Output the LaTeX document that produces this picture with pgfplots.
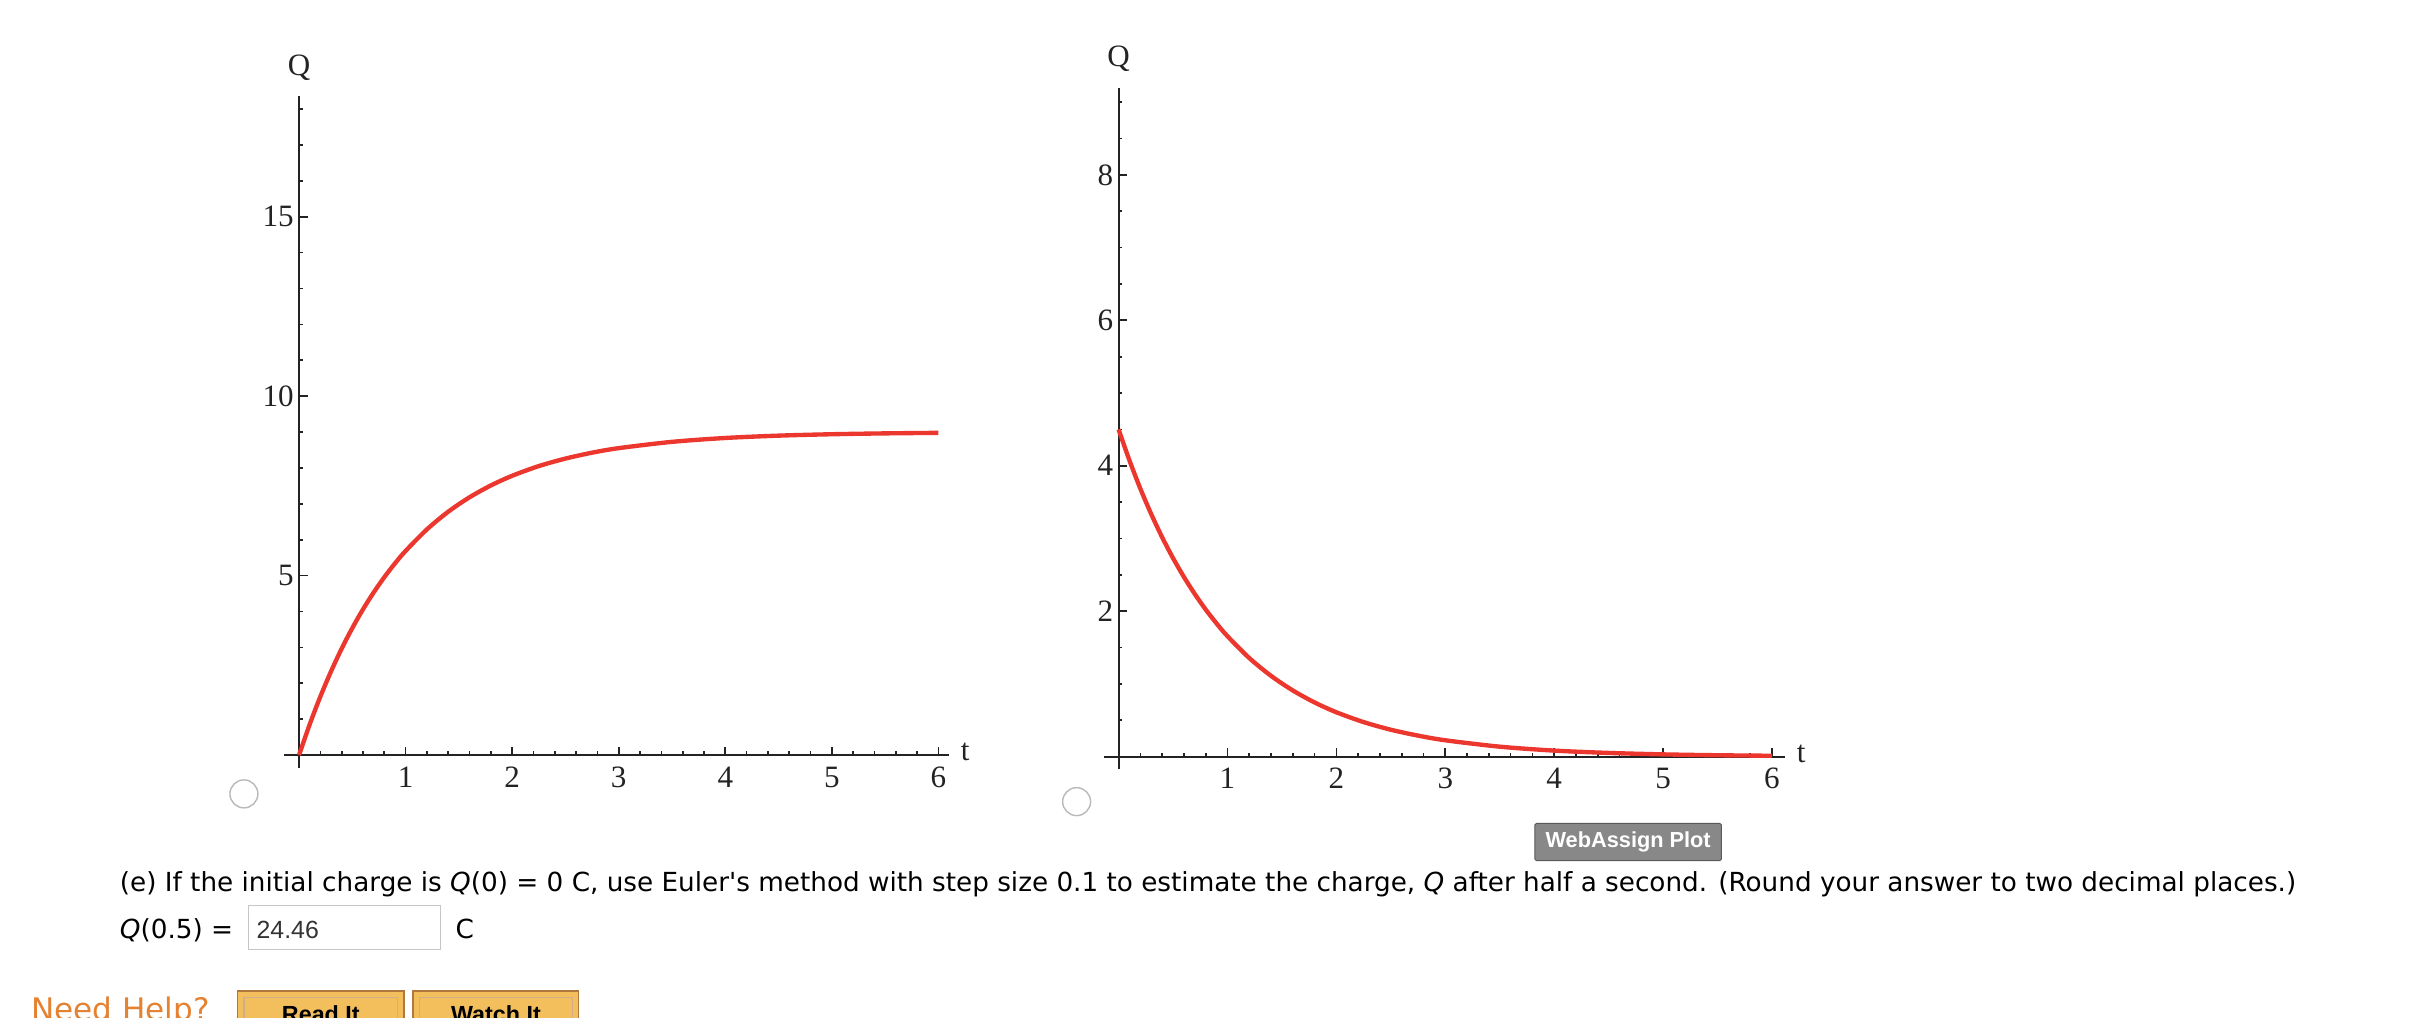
\documentclass[border=0pt]{standalone}
\usepackage{pgfplots}
\pgfplotsset{compat=1.18}
\usepackage{fontspec}
\setmainfont{DejaVu Sans}
\newfontfamily\serifplot{Liberation Serif}
\newfontfamily\arial{Liberation Sans}

\definecolor{curvered}{RGB}{235,55,45}
\definecolor{axisgray}{RGB}{35,35,35}
\definecolor{badge}{RGB}{136,136,136}
\definecolor{helporange}{RGB}{228,130,50}
\definecolor{btnfill}{RGB}{243,190,92}
\definecolor{btnedge}{RGB}{176,120,60}

\pgfplotsset{
  wa/.style={
    scale only axis,
    axis lines=middle,
    axis line style={-, axisgray, line width=1.3pt},
    tick style={axisgray, line width=1.1pt},
    tick align=inside,
    major tick length=5.5pt,
    minor tick length=2.5pt,
    xtick={1,2,3,4,5,6},
    minor xtick={0.2,0.4,0.6,0.8,1.2,1.4,1.6,1.8,2.2,2.4,2.6,2.8,3.2,3.4,3.6,3.8,4.2,4.4,4.6,4.8,5.2,5.4,5.6,5.8},
    /pgf/number format/assume math mode=true,
    ticklabel style={font=\serifplot\fontsize{20}{23}\selectfont, text=axisgray},
    xticklabel style={yshift=-4pt},
    xlabel={t}, ylabel={Q},
    label style={font=\serifplot\fontsize{20}{23}\selectfont, text=axisgray},
    xlabel style={anchor=west, xshift=4pt, yshift=2pt},
    ylabel style={anchor=south, yshift=7pt, rotate=0},
    clip=false,
  },
  curve/.style={curvered, line width=2.8pt, smooth, no markers},
}

\begin{document}
\begin{tikzpicture}
\useasboundingbox (0pt,0pt) rectangle (1568pt,-655pt);

% left plot: charge rising to 9
\begin{axis}[wa,
  at={(182.9pt,-494.1pt)}, anchor=south west,
  width=428pt, height=432pt,
  xmin=-0.14, xmax=6.1, ymin=-0.35, ymax=18.35,
  ytick={5,10,15},
  minor ytick={1,2,3,4,6,7,8,9,11,12,13,14,16,17,18},
  xlabel style={at={(axis description cs:1,0.0187)}},
  ylabel style={at={(axis description cs:0.0224,1)}},
]
\addplot[curve] coordinates {
  (0,0) (0.1,0.857) (0.2,1.632) (0.3,2.332) (0.4,2.967) (0.5,3.541)
  (0.6,4.061) (0.7,4.531) (0.8,4.956) (0.9,5.341) (1.0,5.689)
  (1.2,6.289) (1.4,6.781) (1.6,7.183) (1.8,7.512) (2.0,7.782)
  (2.25,8.052) (2.5,8.261) (2.75,8.425) (3,8.552) (3.5,8.727)
  (4,8.835) (4.5,8.900) (5,8.939) (5.5,8.963) (6,8.978)
};
\end{axis}

% right plot: charge decaying from 4.5
\begin{axis}[wa,
  at={(710.4pt,-494.7pt)}, anchor=south west,
  width=438.6pt, height=438.3pt,
  xmin=-0.137, xmax=6.12, ymin=-0.165, ymax=9.2,
  ytick={2,4,6,8},
  minor ytick={0.5,1,1.5,2.5,3,3.5,4.5,5,5.5,6.5,7,7.5,8.5,9},
  xlabel style={at={(axis description cs:1,0.0176)}},
  ylabel style={at={(axis description cs:0.0219,1)}},
]
\addplot[curve] coordinates {
  (0,4.5) (0.1,4.072) (0.2,3.684) (0.3,3.334) (0.4,3.016) (0.5,2.729)
  (0.6,2.470) (0.7,2.235) (0.8,2.022) (0.9,1.830) (1,1.655)
  (1.2,1.355) (1.4,1.110) (1.6,0.909) (1.8,0.744) (2,0.609)
  (2.25,0.474) (2.5,0.369) (2.75,0.288) (3,0.224) (3.5,0.136)
  (4,0.082) (4.5,0.050) (5,0.030) (5.5,0.018) (6,0.011)
};
\end{axis}

\begin{scope}[x=1pt, y=-1pt]
  % radio buttons
  \draw[gray!55, line width=0.9pt, fill=white] (157,511) circle (9pt);
  \draw[gray!55, line width=0.9pt, fill=white] (693,516) circle (9pt);
  % badge
  \draw[fill=badge, draw=gray!70!black, line width=0.6pt, rounded corners=1pt] (988,530) rectangle (1108,554);
  \node[text=white, font=\arial\bfseries\fontsize{14}{16}\selectfont] at (1048,542) {WebAssign Plot};
  % question text
  \node[anchor=base west, inner sep=0, font=\fontsize{16.9}{20}\selectfont] at (77,574)
    {(e) If the initial charge is \textit{Q}(0) = 0 C, use Euler\textquotesingle s method with step size 0.1 to estimate the charge, \textit{Q} after half a second. (Round your answer to two decimal places.)};
  \node[anchor=base west, inner sep=0, font=\fontsize{16.9}{20}\selectfont] at (77,604) {\textit{Q}(0.5) =};
  \draw[gray!45, line width=0.8pt] (160,583) rectangle (283.6,611);
  \node[anchor=base west, inner sep=0, text=black!80, font=\arial\fontsize{16}{19}\selectfont] at (165,604) {24.46};
  \node[anchor=base west, inner sep=0, font=\fontsize{16.9}{20}\selectfont] at (293,604) {C};
  % help row
  \node[anchor=base west, inner sep=0, text=helporange, font=\fontsize{20}{24}\selectfont] at (20,657) {Need Help?};
  \draw[btnedge, fill=btnfill, line width=1pt] (153,638) rectangle (260,670);
  \draw[btnedge!60, line width=0.8pt] (157,642) rectangle (256,670);
  \node[anchor=base, inner sep=0, font=\arial\bfseries\fontsize{15}{18}\selectfont] at (206.5,658) {Read It};
  \draw[btnedge, fill=btnfill, line width=1pt] (266,638) rectangle (372.4,670);
  \draw[btnedge!60, line width=0.8pt] (270,642) rectangle (368.4,670);
  \node[anchor=base, inner sep=0, font=\arial\bfseries\fontsize{15}{18}\selectfont] at (319.2,658) {Watch It};
\end{scope}
\end{tikzpicture}
\end{document}
